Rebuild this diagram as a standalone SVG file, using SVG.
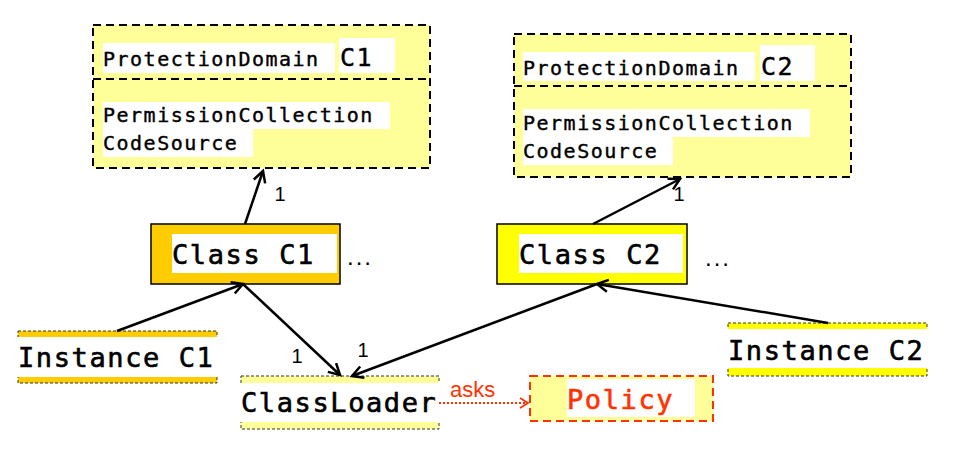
<svg xmlns="http://www.w3.org/2000/svg" width="964" height="470" viewBox="0 0 964 470">
<style>
.pd{fill:#FFFF99;stroke:#000;stroke-width:2;stroke-dasharray:8 5}
.bg{fill:#fff}
.mono{font-family:"DejaVu Sans Mono","Liberation Mono",monospace;fill:#000;stroke:#000;stroke-width:0.4}
.sm{font-size:20px;letter-spacing:1.5px}
.md{font-size:25px;letter-spacing:1.5px}
.lg{font-size:27px;letter-spacing:1.6px;stroke-width:0.6}
.cls{stroke:#000;stroke-width:1.5}
.thin{stroke:#333;stroke-width:1;stroke-dasharray:3 2}
.lbl{font-family:"Liberation Sans",Arial,sans-serif;font-size:20px;fill:#000;text-anchor:middle}
.dots{font-family:"Liberation Sans",Arial,sans-serif;font-size:24px;fill:#000;letter-spacing:2px}
.conn{stroke:#000;stroke-width:2.5;fill:none;marker-end:url(#ah)}
</style>
<defs>
<marker id="ah" markerUnits="userSpaceOnUse" markerWidth="16" markerHeight="16" refX="12" refY="7" orient="auto">
<path d="M1,1 L12,7 L1,13" fill="none" stroke="#000" stroke-width="2.5"/>
</marker>
<marker id="ahr" markerUnits="userSpaceOnUse" markerWidth="14" markerHeight="14" refX="9" refY="6" orient="auto">
<path d="M1,1 L9,6 L1,11" fill="none" stroke="#FF3300" stroke-width="1.8"/>
</marker>
</defs>

<g id="pd1">
<rect class="pd" x="93" y="25" width="337" height="143"/>
<line x1="93" y1="79" x2="430" y2="79" stroke="#000" stroke-width="2" stroke-dasharray="8 5"/>
<rect class="bg" x="103" y="43" width="232" height="30"/>
<rect class="bg" x="339" y="38" width="56" height="35"/>
<rect class="bg" x="103" y="102" width="287" height="27"/>
<rect class="bg" x="103" y="129" width="150" height="28"/>
<text class="mono sm" x="103" y="66">ProtectionDomain</text>
<text class="mono md" x="340" y="66">C1</text>
<text class="mono sm" x="103" y="122">PermissionCollection</text>
<text class="mono sm" x="103" y="150">CodeSource</text>
</g>

<g id="pd2">
<rect class="pd" x="514" y="34" width="337" height="143"/>
<line x1="514" y1="86" x2="851" y2="86" stroke="#000" stroke-width="2" stroke-dasharray="8 5"/>
<rect class="bg" x="523" y="52" width="232" height="29"/>
<rect class="bg" x="760" y="45" width="55" height="36"/>
<rect class="bg" x="523" y="109" width="287" height="28"/>
<rect class="bg" x="523" y="137" width="150" height="28"/>
<text class="mono sm" x="523" y="75">ProtectionDomain</text>
<text class="mono md" x="761" y="75">C2</text>
<text class="mono sm" x="523" y="130">PermissionCollection</text>
<text class="mono sm" x="523" y="158">CodeSource</text>
</g>

<g id="classC1">
<rect class="cls" x="151" y="224" width="189" height="60" fill="#FFCC00"/>
<rect class="bg" x="172" y="234" width="165" height="39"/>
<text class="mono lg" x="172" y="264">Class C1</text>
<text class="dots" x="347" y="265">...</text>
</g>

<g id="classC2">
<rect class="cls" x="497" y="224" width="190" height="60" fill="#FFFF00"/>
<rect class="bg" x="519" y="234" width="164" height="39"/>
<text class="mono lg" x="519" y="264">Class C2</text>
<text class="dots" x="705" y="266">...</text>
</g>

<g id="instanceC1">
<rect class="thin" x="18" y="331" width="199" height="52" fill="#FFCC00"/>
<rect class="bg" x="17" y="337" width="201" height="40"/>
<text class="mono lg" x="18" y="367">Instance C1</text>
</g>

<g id="instanceC2">
<rect class="thin" x="728" y="323" width="199" height="53" fill="#FFFF00"/>
<rect class="bg" x="727" y="329" width="201" height="39"/>
<text class="mono lg" x="728" y="360">Instance C2</text>
</g>

<g id="classLoader">
<rect class="thin" x="241" y="376" width="198" height="53" fill="#FFFF99"/>
<rect class="bg" x="240" y="383" width="200" height="39"/>
<text class="mono lg" x="241" y="412">ClassLoader</text>
</g>

<g id="policy">
<rect x="530" y="376" width="183" height="45" fill="#FFFF99" stroke="#FF3300" stroke-width="2" stroke-dasharray="8 5"/>
<rect class="bg" x="567" y="379" width="128" height="38"/>
<text class="mono lg" x="567" y="409" style="fill:#FF3300;stroke:#FF3300">Policy</text>
</g>

<g id="connectors">
<line class="conn" x1="245" y1="224" x2="263" y2="171"/>
<line class="conn" x1="593" y1="224" x2="680" y2="179"/>
<line class="conn" x1="117" y1="331" x2="243" y2="284"/>
<line class="conn" x1="828" y1="323" x2="597" y2="284"/>
<line class="conn" x1="243" y1="284" x2="340" y2="375"/>
<line class="conn" x1="597" y1="284" x2="352" y2="376"/>
<line x1="439" y1="403" x2="528" y2="403" stroke="#FF3300" stroke-width="2" stroke-dasharray="2 2" marker-end="url(#ahr)"/>
<text class="lbl" x="280" y="201">1</text>
<text class="lbl" x="679" y="201">1</text>
<text class="lbl" x="297" y="363">1</text>
<text class="lbl" x="363" y="357">1</text>
<text x="450" y="397" style="font-family:'Liberation Sans',Arial,sans-serif;font-size:22px;fill:#FF3300">asks</text>
</g>
</svg>
